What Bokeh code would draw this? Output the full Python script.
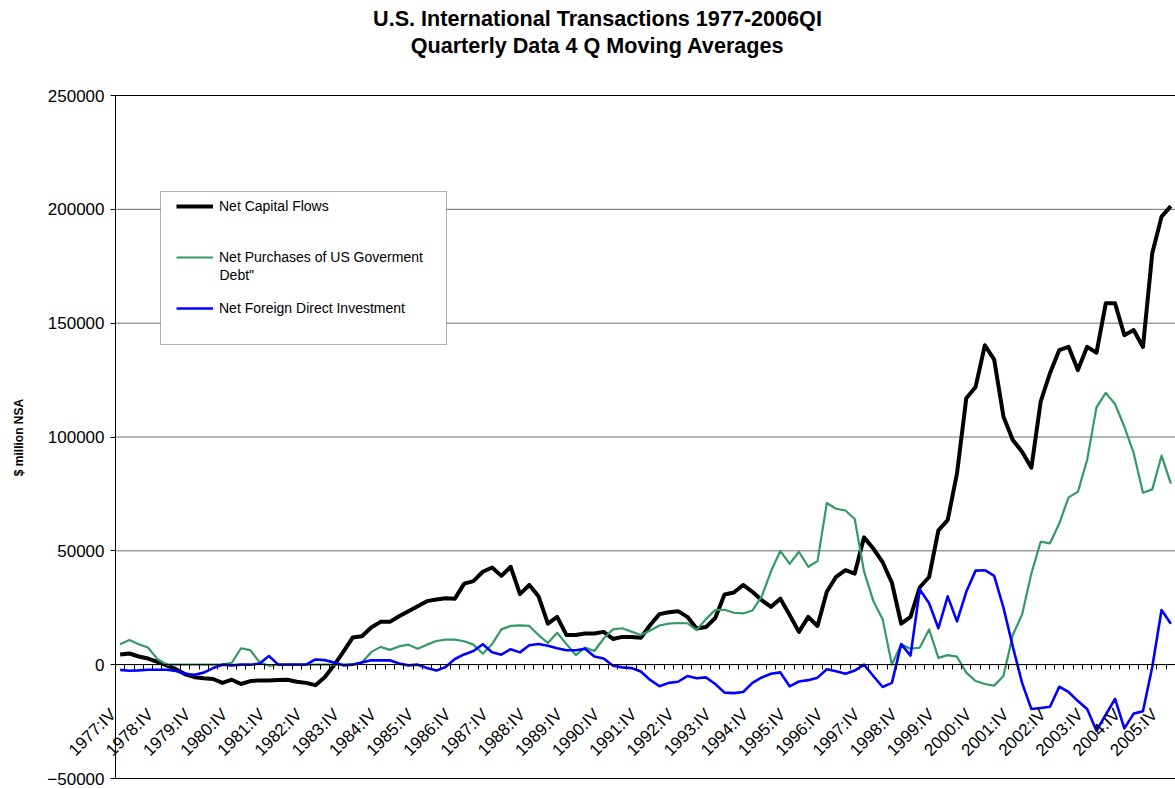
import math
from bokeh.plotting import figure
from bokeh.models import (Range1d, LinearAxis, FixedTicker, BasicTickFormatter, Label,
                          Legend, LegendItem, BoxAnnotation, ColumnDataSource)
from bokeh.embed import file_html
from bokeh.resources import INLINE

# ---------------- data (million $ NSA, 4Q moving averages, 1977:IV .. 2006:I) ----------------
year_labels = ["1977:IV", "1978:IV", "1979:IV", "1980:IV", "1981:IV", "1982:IV", "1983:IV",
               "1984:IV", "1985:IV", "1986:IV", "1987:IV", "1988:IV", "1989:IV", "1990:IV",
               "1991:IV", "1992:IV", "1993:IV", "1994:IV", "1995:IV", "1996:IV", "1997:IV",
               "1998:IV", "1999:IV", "2000:IV", "2001:IV", "2002:IV", "2003:IV", "2004:IV",
               "2005:IV"]

net_capital_flows = [
    4500, 4900, 3600, 2700, 1200, -300, -2000, -4200, -5500, -6000,
    -6300, -8000, -6600, -8500, -7200, -6900, -7000, -6700, -6600, -7500,
    -8000, -9000, -5500, -300, 5600, 11900, 12500, 16300, 18800, 18800,
    21300, 23500, 25700, 27900, 28600, 29200, 29000, 35600, 36700, 40800,
    42700, 39000, 43000, 31000, 35000, 30000, 18000, 21000, 13000, 13000,
    13700, 13700, 14400, 11300, 12200, 12200, 11800, 17400, 22200, 23000,
    23500, 21000, 15900, 16500, 20500, 30800, 31700, 35000, 32000, 28300,
    25400, 29000, 21800, 14400, 21000, 17000, 32000, 38600, 41500, 40000,
    55900, 51000, 45000, 36000, 18000, 21000, 34000, 38500, 59000, 63500,
    84000, 117000, 122000, 140300, 134000, 108900, 98700, 93500, 86500, 115500,
    128000, 138200, 139600, 129400, 139600, 137000, 158700, 158700, 144700, 147000,
    139500, 180700, 196800, 201400]

govt_debt_purchases = [
    9000, 10800, 9000, 7500, 2500, 0, 0, 0, 0, 0,
    0, 0, 800, 7200, 6400, 1000, -500, 0, 0, 0,
    0, 0, 0, 0, 0, 0, 1000, 5500, 7800, 6500,
    8000, 8800, 7000, 8800, 10400, 11000, 11000, 10300, 8800, 4800,
    9000, 15500, 17000, 17300, 17000, 13000, 9500, 14000, 9000, 4200,
    7500, 6000, 11500, 15500, 16000, 14500, 13000, 15000, 17200, 18000,
    18300, 18200, 15200, 20000, 24000, 24100, 22800, 22500, 23800, 30000,
    41000, 50000, 44300, 49600, 43000, 45500, 71000, 68500, 67700, 64000,
    41000, 28000, 20000, 0, 9000, 7000, 7500, 15500, 3000, 4200,
    3500, -3500, -7200, -8500, -9200, -5000, 13000, 22000, 40000, 54000,
    53300, 62000, 73500, 75900, 90000, 113000, 119400, 114500, 104500, 93000,
    75500, 77000, 91800, 79500]

foreign_direct_investment = [
    -2300, -2700, -2500, -2200, -2200, -2200, -2800, -4000, -4400, -3500,
    -1500, 0, -300, 0, 0, 500, 3800, 0, 0, 0,
    0, 2300, 2000, 1000, -300, 0, 1000, 1900, 1900, 1900,
    500, -300, 0, -1500, -2600, -1000, 2500, 4500, 6000, 9000,
    5500, 4400, 6800, 5400, 8500, 9100, 8300, 7200, 6300, 6300,
    7000, 3600, 2700, -500, -1200, -1500, -3000, -6700, -9500, -8000,
    -7500, -5000, -6000, -5600, -8500, -12300, -12500, -12000, -8000, -5600,
    -4000, -3400, -9500, -7400, -6800, -5700, -2000, -2900, -4000, -2600,
    0, -5000, -9800, -8000, 9000, 4000, 33000, 27000, 16000, 30000,
    19000, 32000, 41300, 41500, 39000, 25000, 8000, -8000, -19500, -19000,
    -18500, -9700, -12000, -16000, -19500, -29000, -22000, -15000, -28000, -21500,
    -20500, -1000, 24000, 18000]

y_ticks = [-50000, 0, 50000, 100000, 150000, 200000, 250000]

# ---------------- layout (pixels) ----------------
W, H = 1175, 788
PLOT_L, PLOT_R, PLOT_T, PLOT_B = 115, 1175, 95, 778
LABEL_DX, LABEL_DY = -7, 23          # extra offset of the rotated category labels
FONT = "Liberation Sans"

n = len(net_capital_flows)
qidx = list(range(n))
source = ColumnDataSource(data=dict(q=qidx, ncf=net_capital_flows,
                                    gov=govt_debt_purchases, fdi=foreign_direct_investment))

# the frame covers the whole canvas; the chart area is placed inside it via the ranges
xpx = (PLOT_R - PLOT_L) / n
x0 = -0.5 - PLOT_L / xpx
x1 = n - 0.5 + (W - PLOT_R) / xpx
ypx = (PLOT_B - PLOT_T) / (y_ticks[-1] - y_ticks[0])
y0 = y_ticks[0] - (H - PLOT_B) / ypx
y1 = y_ticks[-1] + PLOT_T / ypx

p = figure(width=W, height=H, x_range=Range1d(x0, x1), y_range=Range1d(y0, y1),
           x_axis_type=None, y_axis_type=None,
           output_backend="svg", toolbar_location=None, min_border=0)
p.min_border_left = p.min_border_right = p.min_border_top = p.min_border_bottom = 0
p.outline_line_color = None
p.background_fill_color = "white"
p.border_fill_color = "white"

# horizontal gridlines (interior grey, top/bottom black)
inner = y_ticks[1:-1]
p.segment(x0=[-0.5] * len(inner), x1=[n - 0.5] * len(inner), y0=inner, y1=inner,
          line_color="#6e6e6e", line_width=1)
edge = [y_ticks[0], y_ticks[-1]]
p.segment(x0=[-0.5] * 2, x1=[n - 0.5] * 2, y0=edge, y1=edge, line_color="black", line_width=1)

# y axis at the left edge of the chart area
ya = LinearAxis(fixed_location=-0.5, bounds=(y_ticks[0], y_ticks[-1]),
                ticker=FixedTicker(ticks=y_ticks),
                formatter=BasicTickFormatter(use_scientific=False),
                major_label_text_font=FONT, major_label_text_font_size="17px",
                major_label_text_color="black", major_label_standoff=6,
                major_tick_out=5, major_tick_in=0, minor_tick_out=0, minor_tick_in=0,
                axis_line_color="black", major_tick_line_color="black")
p.add_layout(ya, "left")

# x axis line with quarter tick marks on the zero line
xa = LinearAxis(fixed_location=0, bounds=(-0.5, n - 0.5),
                ticker=FixedTicker(ticks=[], minor_ticks=[i - 0.5 for i in range(n + 1)]),
                major_tick_out=0, major_tick_in=0, minor_tick_out=5, minor_tick_in=0,
                axis_line_color="black", minor_tick_line_color="black")
p.add_layout(xa, "below")

# rotated year labels (label-only axis, slightly below the zero line)
label_pos = [4 * k + LABEL_DX / xpx for k in range(len(year_labels))]
xl = LinearAxis(fixed_location=-LABEL_DY / ypx, bounds=(-0.5, n - 0.5),
                ticker=FixedTicker(ticks=label_pos, minor_ticks=[]),
                major_label_overrides={pos: lab for pos, lab in zip(label_pos, year_labels)},
                major_label_orientation=math.pi / 4,
                major_label_text_font=FONT, major_label_text_font_size="17px",
                major_label_text_color="black", major_label_standoff=24,
                major_tick_out=0, major_tick_in=0, minor_tick_out=0, minor_tick_in=0,
                axis_line_color=None, major_tick_line_color=None)
p.add_layout(xl, "below")

# lines
r_ncf = p.line("q", "ncf", source=source, line_color="black", line_width=4, line_join="round")
r_gov = p.line("q", "gov", source=source, line_color="#339966", line_width=2.2, line_join="round")
r_fdi = p.line("q", "fdi", source=source, line_color="#0000FF", line_width=2.6, line_join="round")

# titles and y-axis title
for txt, yy in (("U.S. International Transactions 1977-2006QI", 18),
                ("Quarterly Data 4 Q Moving Averages", 45)):
    p.add_layout(Label(x=597, y=yy, x_units="canvas", y_units="canvas", text=txt,
                       text_align="center", text_baseline="middle", text_font=FONT,
                       text_font_size="21.6px", text_font_style="bold", text_color="black"))
p.add_layout(Label(x=18, y=437, x_units="canvas", y_units="canvas", angle=math.pi / 2,
                   text="$ million NSA", text_align="center", text_baseline="middle",
                   text_font=FONT, text_font_size="12px", text_font_style="bold",
                   text_color="black"))

# legend frame + legend
box = BoxAnnotation(left=160, right=446, top=191, bottom=344,
                    left_units="canvas", right_units="canvas", top_units="canvas",
                    bottom_units="canvas",
                    fill_color="white", fill_alpha=1, line_color="black", line_width=1)
p.add_layout(box)

legend = Legend(items=[LegendItem(label="Net Capital Flows", renderers=[r_ncf]),
                       LegendItem(label="Net Purchases of US Goverment", renderers=[r_gov]),
                       LegendItem(label="Net Foreign Direct Investment", renderers=[r_fdi])],
                location=(171, 465), padding=5, spacing=31, margin=0,
                glyph_width=37, glyph_height=20, label_standoff=6, label_height=20,
                label_text_font=FONT, label_text_font_size="14px", label_text_color="black",
                border_line_alpha=0, background_fill_alpha=0)
p.add_layout(legend)
# second line of the wrapped legend entry
p.add_layout(Label(x=219, y=274, x_units="canvas", y_units="canvas", text='Debt"',
                   text_align="left", text_baseline="middle", text_font=FONT,
                   text_font_size="14px", text_color="black"))

open("out.html", "w").write(file_html(p, INLINE))
